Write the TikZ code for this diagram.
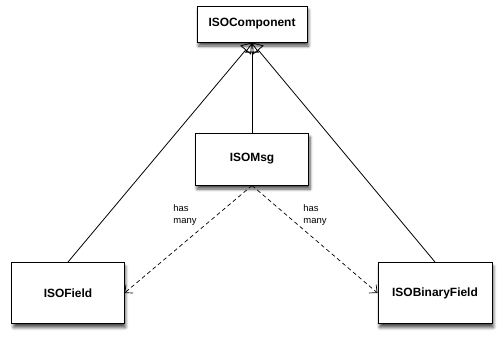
\documentclass[tikz,border=0pt]{standalone}
\usepackage{fontspec}
\setmainfont{Liberation Sans}
\usetikzlibrary{arrows.meta,shadows.blur}
\tikzset{umlsec/.style={x=1bp,y=-1bp,line width=0.8pt},
  classbox/.style={draw,fill=white,line width=1bp,inner sep=0pt,font=\fontsize{12}{14}\selectfont\bfseries,
    blur shadow={shadow xshift=1.5bp,shadow yshift=-4bp,shadow blur radius=3bp,shadow blur steps=6,shadow opacity=70}},
  inherit/.style={-{Triangle[open,length=10bp,width=14bp]}},
  hasmany/.style={dash pattern=on 4bp off 3bp,line width=0.7pt,-{Straight Barb[length=6bp,width=11bp]}},
  note/.style={anchor=west,align=left,inner sep=0pt,font=\fontsize{9.5}{12.5}\selectfont}}

\begin{document}
\begin{tikzpicture}[umlsec]
    \useasboundingbox (0,0) rectangle (502,339);
    \node[classbox,minimum width=110bp,minimum height=36bp] (comp)   at (252,24)  {ISOComponent};
    \node[classbox,minimum width=113bp,minimum height=52bp] (msg)    at (252,159) {ISOMsg};
    \node[classbox,minimum width=112bp,minimum height=61bp] (field)  at (68,293)  {ISOField};
    \node[classbox,minimum width=114bp,minimum height=61bp] (binary) at (435,293) {ISOBinaryField};
    % generalisation
    \draw[inherit] (field.north)  -- (comp.south);
    \draw[inherit] (msg.north)    -- (comp.south);
    \draw[inherit] (binary.north) -- (comp.south);
    % composition
    \draw[hasmany] (msg.south) -- (field.east);
    \draw[hasmany] (msg.south) -- (binary.west);
    \node[note] (hm1) at (173,215) {has\\many};
    \node[note] (hm2) at (303,215) {has\\many};
  \end{tikzpicture}
\end{document}
